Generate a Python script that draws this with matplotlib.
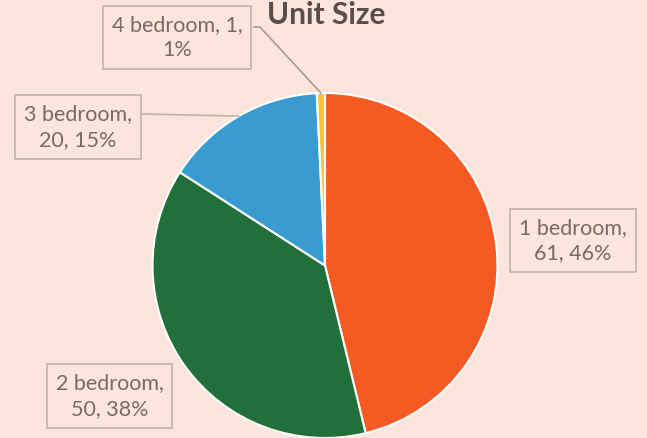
import matplotlib.pyplot as plt
import numpy as np

labels = ["1 bedroom", "2 bedroom", "3 bedroom", "4 bedroom"]
counts = [61, 50, 20, 1]
colors = ["#F55A22", "#21703C", "#3A9BD1", "#F4C443"]

bg = "#FBE5DD"
txt = "#786B66"
edge = "#C4B2AB"

W, H = 647, 438
fig = plt.figure(figsize=(W / 100, H / 100), dpi=100, facecolor=bg)
ax = fig.add_axes([0, 0, 1, 1])
ax.set_facecolor(bg)

cx, cy, r = 325, H - 265.5, 172.5
wedges, _ = ax.pie(counts, colors=colors, startangle=90, counterclock=False,
                   center=(cx, cy), radius=r, frame=True,
                   wedgeprops=dict(edgecolor="white", linewidth=1.5))
ax.set_xlim(0, W)
ax.set_ylim(0, H)
ax.set_aspect("equal")
ax.axis("off")

total = sum(counts)
texts = [f"{l},\n{c}, {round(100 * c / total)}%" for l, c in zip(labels, counts)]
texts[3] = f"{labels[3]}, {counts[3]},\n{round(100 * counts[3] / total)}%"

# label box centres (pixel coords, y from top)
pos = [(573, 240.5), (109.5, 396), (78, 127), (177, 37.5)]
for t, (x, y) in zip(texts, pos):
    ax.text(x, H - y, t, ha="center", va="center", fontsize=15.5, family="Lato",
            color=txt, linespacing=1.35,
            bbox=dict(boxstyle="square,pad=0.42", fc=bg, ec=edge, lw=1.2))

def mid_point(i):
    w = wedges[i]
    a = np.deg2rad((w.theta1 + w.theta2) / 2)
    return cx + r * np.cos(a), cy + r * np.sin(a)

# leader lines
px, py = mid_point(2)
ax.plot([142, px], [H - 114, py], color=edge, lw=1.2)
px, py = mid_point(3)
ax.plot([254, 260, px], [H - 27, H - 27, py], color="#A89A94", lw=1.2)

ax.text(326, H - 1.5, "Unit Size", ha="center", va="top", fontsize=21.5,
        fontweight="bold", family="Lato", color="#5A4E4A")

fig.savefig("out.png", dpi=100, facecolor=bg)
